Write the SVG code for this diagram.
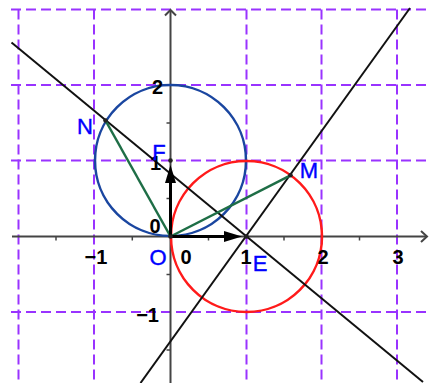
<svg xmlns="http://www.w3.org/2000/svg" width="429" height="383" viewBox="0 0 429 383">
<style>
.grid{stroke:#9933ff;stroke-width:2;stroke-dasharray:10,5;fill:none}
.axis{stroke:#444;stroke-width:2;fill:none}
.tick{stroke:#444;stroke-width:1.5}
.line{stroke:#111;stroke-width:2;fill:none}
.seg{stroke:#1e6e46;stroke-width:2.5;fill:none}
.num{font-family:"Liberation Sans",Arial,sans-serif;font-size:20px;font-weight:bold;fill:#000}
.lab{font-family:"Liberation Sans",Arial,sans-serif;font-size:22px;fill:#0000ff;stroke:#0000ff;stroke-width:0.4}
.pt{fill:#222}
</style>
<rect width="429" height="383" fill="#fff"/>
<g id="grid">
<line class="grid" x1="18.5" y1="9.5" x2="18.5" y2="383"/>
<line class="grid" x1="94" y1="9.5" x2="94" y2="383"/>
<line class="grid" x1="246.5" y1="9.5" x2="246.5" y2="383"/>
<line class="grid" x1="321.5" y1="9.5" x2="321.5" y2="383"/>
<line class="grid" x1="397" y1="9.5" x2="397" y2="383"/>
<line class="grid" x1="11" y1="9.5" x2="429" y2="9.5"/>
<line class="grid" x1="11" y1="85" x2="429" y2="85"/>
<line class="grid" x1="11" y1="160.5" x2="429" y2="160.5"/>
<line class="grid" x1="11" y1="312" x2="429" y2="312"/>
</g>
<g id="axes">
<line class="axis" x1="12" y1="236.5" x2="427" y2="236.5"/>
<polyline class="axis" points="421,231 427,236.5 421,242"/>
<line class="axis" x1="170.5" y1="383" x2="170.5" y2="10"/>
<polyline class="axis" points="165,15.5 170.5,10 176,15.5"/>
<g class="tick">
<line x1="56" y1="236.5" x2="56" y2="240.5"/>
<line x1="132.3" y1="236.5" x2="132.3" y2="240.5"/>
<line x1="208.5" y1="236.5" x2="208.5" y2="240.5"/>
<line x1="284" y1="236.5" x2="284" y2="240.5"/>
<line x1="359.5" y1="236.5" x2="359.5" y2="240.5"/>
<line x1="170.5" y1="123" x2="166.5" y2="123"/>
<line x1="170.5" y1="198.5" x2="166.5" y2="198.5"/>
<line x1="170.5" y1="274.5" x2="166.5" y2="274.5"/>
<line x1="170.5" y1="350" x2="166.5" y2="350"/>
</g>
</g>
<g id="circle-blue"><circle cx="170.5" cy="160.5" r="75.5" fill="none" stroke="#1a46a0" stroke-width="2.5"/></g>
<g id="circle-red"><circle cx="246.5" cy="236.5" r="75.5" fill="none" stroke="#ff1a1a" stroke-width="2.5"/></g>
<g id="connectors">
<line class="line" x1="11.5" y1="42.6" x2="423" y2="382.1"/>
<line class="line" x1="140.5" y1="383" x2="410" y2="8"/>
<line class="seg" x1="170.5" y1="236.5" x2="105.5" y2="120.5"/>
<line class="seg" x1="170.5" y1="236.5" x2="290.5" y2="175.3"/>
<line stroke="#000" stroke-width="3" x1="170.5" y1="236.5" x2="226" y2="236.5"/>
<polygon fill="#000" points="242,236.5 224,231 224,242"/>
<line stroke="#000" stroke-width="3" x1="170.5" y1="236.5" x2="170.5" y2="181"/>
<polygon fill="#000" points="170.5,165 165,183 176,183"/>
</g>
<g id="numbers">
<text class="num" x="163" y="94" text-anchor="end">2</text>
<text class="num" x="161" y="170" text-anchor="end">1</text>
<text class="num" x="155" y="233" text-anchor="middle">0</text>
<text class="num" x="159" y="322" text-anchor="end">−1</text>
<text class="num" x="96" y="264" text-anchor="middle">−1</text>
<text class="num" x="186" y="264" text-anchor="middle">0</text>
<text class="num" x="246" y="264" text-anchor="middle">1</text>
<text class="num" x="323" y="264" text-anchor="middle">2</text>
<text class="num" x="398" y="264" text-anchor="middle">3</text>
</g>
<g id="point-N"><circle class="pt" cx="105.5" cy="120.5" r="2.3"/><text class="lab" x="85" y="134" text-anchor="middle">N</text></g>
<g id="point-F"><circle class="pt" cx="170.5" cy="160.5" r="2.3"/><text class="lab" x="159" y="160" text-anchor="middle">F</text></g>
<g id="point-M"><circle class="pt" cx="290.5" cy="175.3" r="2.3"/><text class="lab" x="309" y="178" text-anchor="middle">M</text></g>
<g id="point-O"><circle class="pt" cx="170.5" cy="236.5" r="2.3"/><text class="lab" x="158" y="265" text-anchor="middle">O</text></g>
<g id="point-E"><circle class="pt" cx="246.5" cy="236.5" r="2.3"/><text class="lab" x="260" y="271" text-anchor="middle">E</text></g>
</svg>
